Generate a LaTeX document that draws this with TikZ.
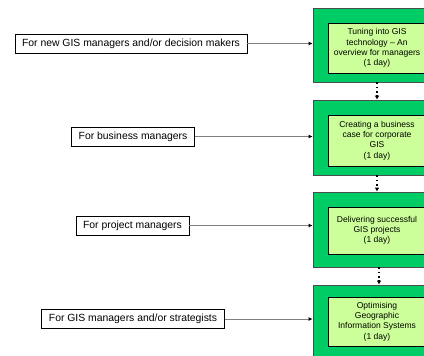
\documentclass[tikz,border=0pt]{standalone}
\usepackage{fontspec}
\setmainfont{Liberation Sans}
\usetikzlibrary{arrows.meta}
\definecolor{boxgreen}{HTML}{00CC66}
\definecolor{palegreen}{HTML}{CCFF99}
\definecolor{linegrey}{HTML}{808080}
\begin{document}
\begin{tikzpicture}[x=0.75pt,y=-0.75pt,
    who/.style={draw,fill=white,line width=0.6pt,inner xsep=5.25pt,minimum height=14.25pt,font=\fontsize{7.8}{9}\selectfont},
    course/.style={draw=black!70,fill=boxgreen,line width=0.6pt,minimum width=96pt},
    topic/.style={draw,fill=palegreen,line width=0.6pt,minimum width=73.5pt,align=center,font=\fontsize{6.4}{7.7}\selectfont},
    feed/.style={draw=linegrey,line width=0.6pt,-{Latex[length=3pt,width=3pt,black]}},
    next/.style={line width=1.2pt,dotted,-{Latex[length=3pt,width=3.5pt]}}]
    \useasboundingbox (0,0) rectangle (424,355);
    \clip (0,0) rectangle (424,355);
		\draw (377,45) node[course,minimum height=55.5pt](G1) {};
		\draw (377,137.5) node[course,minimum height=56.25pt](G2) {};
		\draw (377,229.5) node[course,minimum height=56.25pt](G3) {};
		\draw (377,322.5) node[course,minimum height=56.25pt](G4) {};
		\draw (377,48) node[topic,minimum height=37.5pt](T1) {Tuning into GIS\\technology -- An\\overview for managers\\(1 day)};
		\draw (377,140.5) node[topic,minimum height=38.25pt](T2) {Creating a business\\case for corporate\\GIS\\(1 day)};
		\draw (377,230.5) node[topic,minimum height=35.25pt](T3) {Delivering successful\\GIS projects\\(1 day)};
		\draw (377,321.5) node[topic,minimum height=36.75pt](T4) {Optimising\\Geographic\\Information Systems\\(1 day)};
		\draw (131,43.5) node[who](W1) {For new GIS managers and/or decision makers};
		\draw (133,136.5) node[who](W2) {For business managers};
		\draw (132.5,225.5) node[who](W3) {For project managers};
		\draw (133,319) node[who](W4) {For GIS managers and/or strategists};
        \draw[feed] (W1) -- (W1 -| G1.west);
        \draw[feed] (W2) -- (W2 -| G2.west);
        \draw[feed] (W3) -- (W3 -| G3.west);
        \draw[feed] (W4) -- (W4 -| G4.west);
        \draw[next] (G1) -- (G2);
        \draw[next] (G2) -- (G3);
        \draw[next] ([xshift=1.5pt]G3.south) -- ([xshift=1.5pt]G4.north);
    \end{tikzpicture}
\end{document}
